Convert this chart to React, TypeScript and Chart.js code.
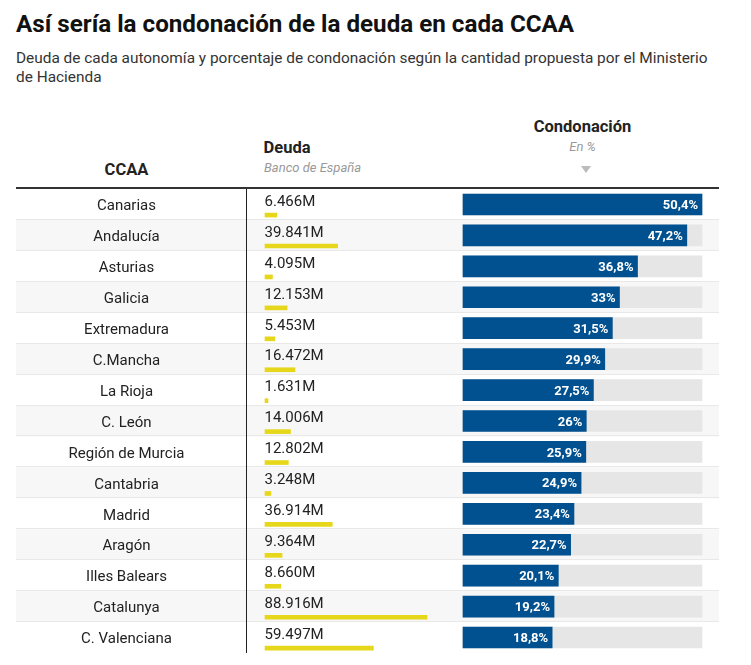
import React, { useEffect, useRef } from "react";
import { Chart, registerables } from "chart.js";

Chart.register(...registerables);

// ---------- data ----------
const ccaa = [
  "Canarias",
  "Andalucía",
  "Asturias",
  "Galicia",
  "Extremadura",
  "C.Mancha",
  "La Rioja",
  "C. León",
  "Región de Murcia",
  "Cantabria",
  "Madrid",
  "Aragón",
  "Illes Balears",
  "Catalunya",
  "C. Valenciana",
];
// Deuda, millones de euros (Banco de España)
const deuda = [6466, 39841, 4095, 12153, 5453, 16472, 1631, 14006, 12802, 3248, 36914, 9364, 8660, 88916, 59497];
// Condonación, en %
const condonacion = [50.4, 47.2, 36.8, 33, 31.5, 29.9, 27.5, 26, 25.9, 24.9, 23.4, 22.7, 20.1, 19.2, 18.8];

// ---------- style / layout ----------
const FONT = "Roboto";
const BLUE = "#01508f";
const YELLOW = "#e6d71b";
const TRACK = "#e6e6e6";
const TABLE_L = 16;
const TABLE_R = 719;
const DIV_X = 246;
const NAME_CX = 126.5; // centre of the CCAA column text
const DEUDA_X0 = 265;
const DEUDA_XMAX = 427;
const COND_X0 = 463;
const COND_X1 = 702;
const DEUDA_BAR_SHIFT = 0.343; // yellow bar sits in the lower part of the row

const fmtDeuda = (v: number) => {
  const s = String(v);
  return (s.length > 3 ? s.slice(0, -3) + "." + s.slice(-3) : s) + "M";
};
const fmtPct = (v: number) => String(v).replace(".", ",") + "%";

function spanScale(p0: number, p1: number, v1: number) {
  const k = v1 / (p1 - p0);
  return { min: -(p0 - DIV_X) * k, max: v1 + (TABLE_R - p1) * k };
}

const tablePlugin = {
  id: "tableDecor",
  beforeDraw(chart: any) {
    const { ctx, chartArea, scales } = chart;
    const y = scales.y;
    const n = ccaa.length;
    const rowH = (chartArea.bottom - chartArea.top) / n;
    ctx.save();
    ctx.fillStyle = "#fff";
    ctx.fillRect(0, 0, chart.width, chart.height);
    for (let i = 0; i < n; i++) {
      const top = y.getPixelForValue(i) - rowH / 2;
      if (i % 2 === 1) {
        ctx.fillStyle = "#f7f7f7";
        ctx.fillRect(TABLE_L, top, TABLE_R - TABLE_L, rowH);
      }
      if (i > 0) {
        ctx.fillStyle = "#e8e8e8";
        ctx.fillRect(TABLE_L, Math.round(top) - 1, TABLE_R - TABLE_L, 1);
      }
    }
    // header rule
    ctx.fillStyle = "#333";
    ctx.fillRect(TABLE_L, chartArea.top - 2, TABLE_R - TABLE_L, 2);
    // column divider
    ctx.fillStyle = "#222";
    ctx.fillRect(DIV_X, chartArea.top, 1, chartArea.bottom - chartArea.top);
    ctx.restore();
  },
  afterDatasetsDraw(chart: any) {
    const { ctx, chartArea, scales } = chart;
    const y = scales.y;
    const n = ccaa.length;
    const rowH = (chartArea.bottom - chartArea.top) / n;
    ctx.save();
    // deuda values
    ctx.font = `15px ${FONT}`;
    ctx.fillStyle = "#222";
    ctx.textAlign = "left";
    ctx.textBaseline = "alphabetic";
    const x0 = scales.xD.getPixelForValue(0);
    for (let i = 0; i < n; i++) {
      const top = y.getPixelForValue(i) - rowH / 2;
      ctx.fillText(fmtDeuda(deuda[i]), x0 - 0.5, top + 16.8);
    }
    // percentage labels
    ctx.font = `bold 13px ${FONT}`;
    ctx.fillStyle = "#fff";
    ctx.textAlign = "right";
    const meta = chart.getDatasetMeta(0);
    meta.data.forEach((el: any, i: number) => {
      ctx.fillText(fmtPct(condonacion[i]), el.x - 4, el.y + 4.6);
    });
    ctx.restore();
  },
};

export default function App() {
  const ref = useRef<HTMLCanvasElement>(null);

  useEffect(() => {
    const canvas = ref.current!;
    const mctx = document.createElement("canvas").getContext("2d")!;
    mctx.font = `15px ${FONT}`;
    const widest = Math.max(...ccaa.map((s) => mctx.measureText(s).width));
    const condMax = Math.max(...condonacion);
    const condRange = spanScale(COND_X0, COND_X1, condMax);
    const deudaRange = spanScale(DEUDA_X0, DEUDA_XMAX, Math.max(...deuda));

    const chart = new Chart(canvas, {
      type: "bar",
      data: {
        labels: ccaa,
        datasets: [
          {
            label: "Condonación",
            data: condonacion,
            xAxisID: "xC",
            yAxisID: "y",
            backgroundColor: BLUE,
            barThickness: 21,
            grouped: false,
            order: 0,
          } as any,
          {
            label: "Total",
            data: condonacion.map(() => condMax),
            xAxisID: "xC",
            yAxisID: "y",
            backgroundColor: TRACK,
            barThickness: 21,
            grouped: false,
            order: 1,
          } as any,
          {
            label: "Deuda",
            data: deuda.map((v, i) => ({ x: v, y: i + DEUDA_BAR_SHIFT })),
            xAxisID: "xD",
            yAxisID: "yl",
            backgroundColor: YELLOW,
            barThickness: 4,
            grouped: false,
            order: 2,
          } as any,
        ],
      },
      options: {
        indexAxis: "y",
        responsive: false,
        animation: false,
        devicePixelRatio: 1,
        layout: { padding: { left: TABLE_L, right: 751 - TABLE_R, top: 9, bottom: 12 } },
        plugins: { legend: { display: false }, tooltip: { enabled: false } },
        scales: {
          y: {
            type: "category",
            position: "left",
            offset: true,
            grid: { display: false, drawTicks: false },
            border: { display: false },
            ticks: {
              color: "#222",
              font: { family: FONT, size: 15 },
              crossAlign: "center",
              padding: DIV_X - NAME_CX - widest / 2,
              labelOffset: 2,
              autoSkip: false,
            },
            afterFit: (s: any) => {
              s.width = DIV_X - TABLE_L;
              s.paddingTop = 0;
              s.paddingBottom = 0;
            },
          },
          yl: {
            type: "linear",
            display: false,
            offset: false,
            grace: 0,
            min: -0.5,
            max: ccaa.length - 0.5,
            reverse: true,
          },
          xC: { type: "linear", display: false, min: condRange.min, max: condRange.max },
          xD: { type: "linear", display: false, min: deudaRange.min, max: deudaRange.max },
        },
      } as any,
      plugins: [tablePlugin],
    });
    return () => chart.destroy();
  }, []);

  const abs = (o: React.CSSProperties): React.CSSProperties => ({ position: "absolute", whiteSpace: "nowrap", ...o });

  return (
    <div style={{ position: "absolute", left: 0, top: 0, width: 751, height: 665, background: "#fff", fontFamily: FONT, overflow: "hidden" }}>
      <div style={abs({ left: 16, top: 11.5, fontSize: 24.2, lineHeight: "24px", fontWeight: 700, color: "#111" })}>
        Así sería la condonación de la deuda en cada CCAA
      </div>
      <div style={abs({ left: 16, top: 48.5, fontSize: 15.4, lineHeight: "19px", color: "#333" })}>
        Deuda de cada autonomía y porcentaje de condonación según la cantidad propuesta por el Ministerio
        <br />
        de Hacienda
      </div>
      <div style={abs({ left: NAME_CX - 100, width: 200, top: 161.5, fontSize: 16.5, lineHeight: "16.5px", fontWeight: 700, color: "#222", textAlign: "center" })}>
        CCAA
      </div>
      <div style={abs({ left: 263.5, top: 139.5, fontSize: 16.5, lineHeight: "16.5px", fontWeight: 700, color: "#222" })}>Deuda</div>
      <div style={abs({ left: 264, top: 160.8, fontSize: 13, lineHeight: "13px", fontStyle: "italic", color: "#999" })}>
        Banco de España
      </div>
      <div style={abs({ left: COND_X0, width: COND_X1 - COND_X0, top: 118.8, fontSize: 16.5, lineHeight: "16.5px", fontWeight: 700, color: "#222", textAlign: "center" })}>
        Condonación
      </div>
      <div style={abs({ left: COND_X0, width: COND_X1 - COND_X0, top: 139.8, fontSize: 13, lineHeight: "13px", fontStyle: "italic", color: "#999", textAlign: "center" })}>
        En %
      </div>
      <div
        style={abs({
          left: 581,
          top: 166,
          width: 0,
          height: 0,
          borderLeft: "5px solid transparent",
          borderRight: "5px solid transparent",
          borderTop: "7px solid #bbb",
        })}
      />
      <canvas ref={ref} width={751} height={485} style={{ position: "absolute", left: 0, top: 180, width: 751, height: 485 }} />
    </div>
  );
}
